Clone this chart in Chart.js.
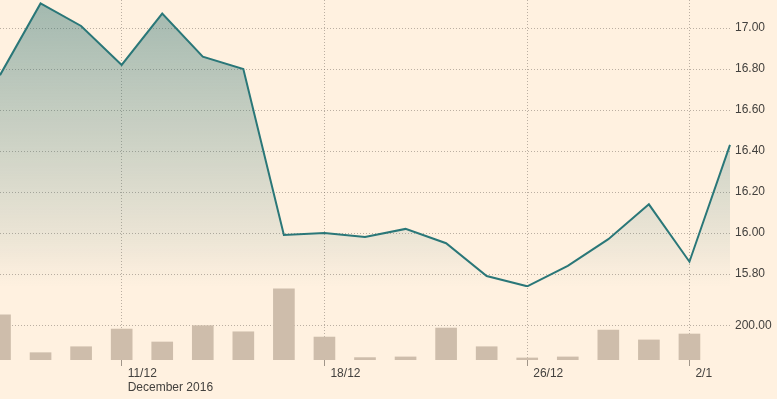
<!DOCTYPE html>
<html><head><meta charset="utf-8">
<script src="https://cdn.jsdelivr.net/npm/chart.js@4"></script>
<style>html,body{margin:0;padding:0;background:#fff1e0;}canvas{display:block;}</style>
</head><body>
<canvas id="c" width="777" height="399"></canvas>
<script>
const dates = ['6/12','7/12','8/12','11/12','12/12','13/12','14/12','15/12','18/12','19/12','20/12','21/12','22/12','26/12','27/12','28/12','29/12','2/1','3/1'];
const prices = [16.77,17.12,17.01,16.82,17.07,16.86,16.80,15.99,16.00,15.98,16.02,15.95,15.79,15.74,15.84,15.97,16.14,15.86,16.43];
const volumes = [266,43,78,182,106,202,166,418,135,14,18,188,78,12,18,176,118,153,null];
const tickDates = ['11/12','18/12','26/12','2/1'];
const monthLabel = 'December 2016';
const priceTicks = [15.8,16.0,16.2,16.4,16.6,16.8,17.0];
const volumeTicks = [200];

const font = {family: "'Liberation Sans', Arial, sans-serif", size: 12};
const textColor = '#43413e';
const gridColor = 'rgba(120,110,100,0.5)';

function fixY(s) { s.width = 47; s.paddingTop = 0; s.paddingBottom = 0; }

new Chart(document.getElementById('c'), {
  type: 'bar',
  data: {
    labels: dates,
    datasets: [
      {
        type: 'line', label: 'Price', data: prices, yAxisID: 'y', order: 0,
        borderColor: '#2a7778', borderWidth: 2, tension: 0, pointRadius: 0,
        fill: 'start',
        backgroundColor: (ctx) => {
          const chart = ctx.chart; const s = chart.scales.y;
          if (!s || s.bottom === undefined) return 'rgba(0,0,0,0)';
          const g = chart.ctx.createLinearGradient(0, s.top, 0, s.bottom);
          g.addColorStop(0, 'rgba(40,110,110,0.43)');
          g.addColorStop(0.5, 'rgba(40,110,110,0.23)');
          g.addColorStop(0.8, 'rgba(40,110,110,0.10)');
          g.addColorStop(1, 'rgba(40,110,110,0.0)');
          return g;
        }
      },
      {
        type: 'bar', label: 'Volume', data: volumes, yAxisID: 'v', order: 1,
        backgroundColor: '#cebdab', barThickness: 21
      }
    ]
  },
  options: {
    responsive: false, animation: false,
    layout: {padding: 0},
    plugins: {legend: {display: false}, tooltip: {enabled: false}},
    scales: {
      x: {
        type: 'category', offset: false,
        grid: {offset: false, color: gridColor, tickColor: 'rgba(120,110,100,0.7)', tickLength: 6, tickBorderDash: [], drawTicks: true},
        border: {display: false, dash: [1, 2]},
        ticks: {
          autoSkip: false, maxRotation: 0, align: 'start', labelOffset: 6, padding: 0, font, color: textColor,
          callback: function (v) { const l = this.getLabelForValue(v); return l === tickDates[0] ? [l, monthLabel] : l; }
        },
        afterBuildTicks: (s) => { s.ticks = s.ticks.filter(t => tickDates.includes(dates[t.value])); },
        afterFit: (s) => { s.height = 39; s.paddingLeft = 0; s.paddingRight = 0; }
      },
      y: {
        position: 'right', stack: 'main', stackWeight: 287,
        min: 15.7366, max: 17.1366,
        afterBuildTicks: (s) => { s.ticks = priceTicks.map(v => ({value: v})); },
        ticks: {callback: (v) => Number(v).toFixed(2), padding: 5, font, color: textColor},
        grid: {color: gridColor, drawTicks: false},
        border: {display: false, dash: [1, 2]},
        afterFit: fixY
      },
      v: {
        position: 'right', stack: 'main', stackWeight: 73,
        min: 0, max: 429.4,
        afterBuildTicks: (s) => { s.ticks = volumeTicks.map(v => ({value: v})); },
        ticks: {callback: (v) => Number(v).toFixed(2), padding: 5, font, color: textColor},
        grid: {color: gridColor, drawTicks: false},
        border: {display: false, dash: [1, 2]},
        afterFit: fixY
      }
    }
  }
});
</script>
</body></html>
